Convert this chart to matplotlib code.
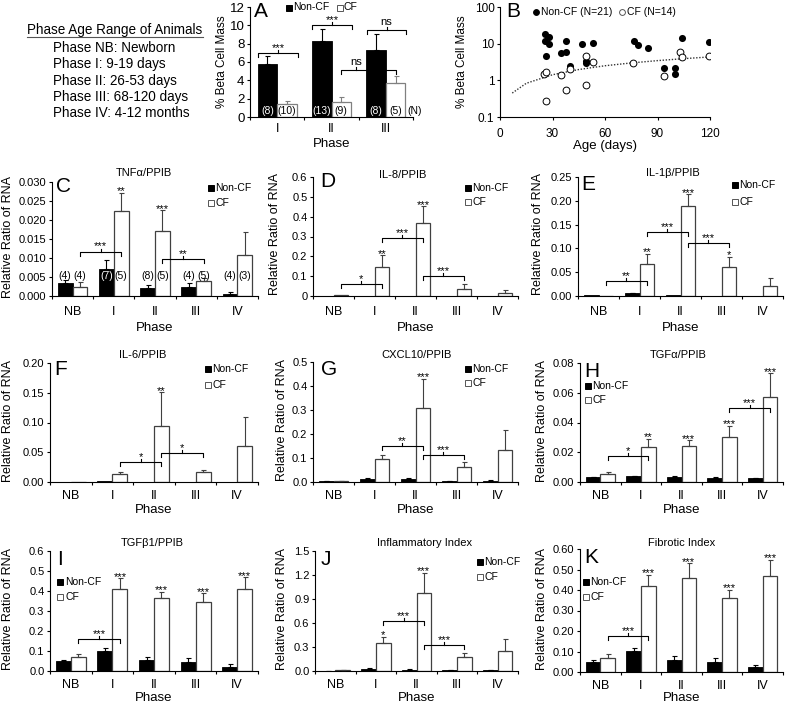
import numpy as np
import matplotlib
matplotlib.use('Agg')
import matplotlib.pyplot as plt
from matplotlib.lines import Line2D
from matplotlib.ticker import NullLocator

plt.rcParams['font.family'] = ['Liberation Sans', 'DejaVu Sans']
plt.rcParams['axes.linewidth'] = 0.8

W, H = 786, 704

# ------------------------------------------------------------------ data
phases = ['NB', 'I', 'II', 'III', 'IV']
series_names = ['Non-CF', 'CF']
age_header = 'Phase Age Range of Animals'
age_lines = ['Phase NB: Newborn', 'Phase I: 9-19 days', 'Phase II: 26-53 days',
             'Phase III: 68-120 days', 'Phase IV: 4-12 months']

# Panel A: % beta cell mass
a_phases = ['I', 'II', 'III']
a_noncf = [5.8, 8.3, 7.3]
a_noncf_err = [0.9, 1.3, 1.8]
a_cf = [1.4, 1.65, 3.7]
a_cf_err = [0.3, 0.5, 0.8]
a_n_noncf = ['(8)', '(13)', '(8)']
a_n_cf = ['(10)', '(9)', '(5)']
a_yticks = [0, 2, 4, 6, 8, 10, 12]

# Panel B: scatter (age days, % beta cell mass)
b_noncf_age = [25.7, 28.2, 25.7, 28.0, 26.0, 34.7, 37.5, 37.7, 40.0, 46.7, 49.0,
               49.0, 53.0, 76.8, 78.7, 84.8, 93.9, 100.0, 100.0, 103.8, 119.6]
b_noncf_mass = [18.7, 15.0, 11.8, 10.0, 4.6, 5.6, 6.0, 12.0, 2.5, 9.5, 3.4,
                2.9, 10.2, 12.2, 9.4, 7.6, 2.2, 2.2, 1.5, 14.5, 10.8]
b_cf_age = [25.1, 26.0, 26.0, 34.9, 37.7, 40.0, 49.0, 49.0, 53.0, 75.8, 93.9,
            102.9, 103.8, 119.6]
b_cf_mass = [1.45, 1.65, 0.27, 1.4, 0.56, 2.0, 4.7, 0.76, 3.1, 2.9, 1.28,
             6.0, 4.3, 4.7]
b_trend_age = [7, 15, 30, 45, 60, 75, 90, 105, 120]
b_trend_mass = [0.45, 0.83, 1.42, 1.97, 2.5, 2.98, 3.45, 3.9, 4.35]

# Gene panels
tnfa_noncf = [0.0035, 0.0072, 0.0020, 0.0023, 0.0005]
tnfa_noncf_err = [0.0007, 0.0023, 0.0008, 0.0011, 0.0005]
tnfa_cf = [0.0025, 0.0224, 0.0171, 0.0039, 0.0107]
tnfa_cf_err = [0.0011, 0.0047, 0.0055, 0.0009, 0.0061]
tnfa_n_noncf = ['(4)', '(7)', '(8)', '(4)', '(4)']
tnfa_n_cf = ['(4)', '(5)', '(5)', '(5)', '(3)']
tnfa_yticklabels = ['0.000', '0.005', '0.010', '0.015', '0.020', '0.025', '0.030']

il8_noncf = [0.002, 0.002, 0.002, 0.001, 0.001]
il8_noncf_err = [0.0, 0.0, 0.0, 0.0, 0.0]
il8_cf = [0.003, 0.147, 0.370, 0.037, 0.017]
il8_cf_err = [0.0, 0.058, 0.083, 0.021, 0.013]
il8_yticklabels = ['0', '0.1', '0.2', '0.3', '0.4', '0.5', '0.6']

il1b_noncf = [0.0015, 0.0055, 0.0015, 0.0008, 0.0008]
il1b_noncf_err = [0.0, 0.001, 0.0, 0.0, 0.0]
il1b_cf = [0.001, 0.067, 0.189, 0.061, 0.0215]
il1b_cf_err = [0.0, 0.022, 0.025, 0.021, 0.0155]
il1b_yticklabels = ['0.00', '0.05', '0.10', '0.15', '0.20', '0.25']

il6_noncf = [0.0, 0.001, 0.0, 0.0005, 0.0]
il6_noncf_err = [0.0, 0.0, 0.0, 0.0, 0.0]
il6_cf = [0.0, 0.0134, 0.0947, 0.0162, 0.060]
il6_cf_err = [0.0, 0.0034, 0.056, 0.0038, 0.049]
il6_yticklabels = ['0.00', '0.05', '0.10', '0.15', '0.20']

cxcl10_noncf = [0.003, 0.014, 0.011, 0.004, 0.005]
cxcl10_noncf_err = [0.001, 0.004, 0.004, 0.001, 0.002]
cxcl10_cf = [0.003, 0.097, 0.308, 0.0625, 0.135]
cxcl10_cf_err = [0.001, 0.017, 0.122, 0.021, 0.080]
cxcl10_yticklabels = ['0.0', '0.1', '0.2', '0.3', '0.4', '0.5']

tgfa_noncf = [0.0033, 0.0038, 0.0034, 0.0029, 0.0025]
tgfa_noncf_err = [0.0002, 0.0004, 0.0004, 0.0003, 0.0004]
tgfa_cf = [0.0056, 0.0234, 0.0243, 0.0305, 0.0573]
tgfa_cf_err = [0.0008, 0.0056, 0.0036, 0.0074, 0.0157]
tgfa_yticklabels = ['0.00', '0.02', '0.04', '0.06', '0.08']

tgfb1_noncf = [0.050, 0.102, 0.057, 0.045, 0.022]
tgfb1_noncf_err = [0.007, 0.012, 0.015, 0.022, 0.012]
tgfb1_cf = [0.072, 0.409, 0.365, 0.345, 0.410]
tgfb1_cf_err = [0.015, 0.055, 0.032, 0.043, 0.059]
tgfb1_yticklabels = ['0.0', '0.1', '0.2', '0.3', '0.4', '0.5', '0.6']

infl_noncf = [0.005, 0.029, 0.017, 0.007, 0.007]
infl_noncf_err = [0.001, 0.006, 0.003, 0.002, 0.002]
infl_cf = [0.008, 0.350, 0.975, 0.175, 0.246]
infl_cf_err = [0.002, 0.075, 0.250, 0.050, 0.158]
infl_yticklabels = ['0.0', '0.3', '0.6', '0.9', '1.2', '1.5']

fib_noncf = [0.049, 0.102, 0.057, 0.047, 0.024]
fib_noncf_err = [0.008, 0.016, 0.019, 0.023, 0.012]
fib_cf = [0.070, 0.421, 0.459, 0.360, 0.467]
fib_cf_err = [0.016, 0.052, 0.071, 0.042, 0.079]
fib_yticklabels = ['0.00', '0.10', '0.20', '0.30', '0.40', '0.50', '0.60']

# significance annotations
tnfa_stars = ['', '**', '***', '', '']
tnfa_brackets = [(0, 1, 0.0117, '***'), (2, 3, 0.0098, '**')]
il8_stars = ['', '**', '***', '', '']
il8_brackets = [(0, 1, 0.062, '*'), (1, 2, 0.29, '***'), (2, 3, 0.10, '***')]
il1b_stars = ['', '**', '***', '*', '']
il1b_brackets = [(0, 1, 0.032, '**'), (1, 2, 0.134, '***'), (2, 3, 0.111, '***')]
il6_stars = ['', '', '**', '', '']
il6_brackets = [(1, 2, 0.0336, '*'), (2, 3, 0.0487, '*')]
cxcl10_stars = ['', '', '***', '', '']
cxcl10_brackets = [(1, 2, 0.15, '**'), (2, 3, 0.111, '***')]
tgfa_stars = ['', '**', '***', '***', '***']
tgfa_brackets = [(0, 1, 0.0172, '*'), (3, 4, 0.050, '***')]
tgfb1_stars = ['', '***', '***', '***', '***']
tgfb1_brackets = [(0, 1, 0.159, '***')]
infl_stars = ['', '*', '***', '', '']
infl_brackets = [(1, 2, 0.62, '***'), (2, 3, 0.32, '***')]
fib_stars = ['', '***', '***', '***', '***']
fib_brackets = [(0, 1, 0.175, '***')]

# ------------------------------------------------------------------ helpers
CF_EDGE = '#404040'
BW = 0.36

fig = plt.figure(figsize=(W / 100, H / 100), dpi=100)


def fx(px):
    return px / W


def fy(py):
    return 1 - py / H


def add_ax(l, t, r, b):
    return fig.add_axes([fx(l), fy(b), (r - l) / W, (b - t) / H])


def sq_legend(x, y, filled, label, marker='s', ms=3.8, fs=7.5, gap=5):
    fig.add_artist(Line2D([fx(x)], [fy(y)], marker=marker, markersize=ms,
                          markerfacecolor='black' if filled else 'white',
                          markeredgecolor='black' if filled else '#555555',
                          markeredgewidth=0.7, linestyle='none',
                          transform=fig.transFigure))
    fig.text(fx(x + gap), fy(y), label, ha='left', va='center', fontsize=fs)


def bracket(ax, x1, x2, y, txt, h_px, fs=8, xm=None):
    y0, y1 = ax.get_ylim()
    u = (y1 - y0) / h_px
    ax.plot([x1, x1, x2, x2], [y - 4 * u, y, y, y - 4 * u], color='black',
            lw=0.8, zorder=4, clip_on=False)
    if xm is None:
        xm = (x1 + x2) / 2
    ax.plot([xm, xm], [y, y + 3 * u], color='black', lw=0.8, zorder=4, clip_on=False)
    off = 2 * u if txt.startswith('*') else 5 * u
    ax.text(xm, y + off, txt, ha='center', va='baseline', fontsize=fs, zorder=5)


def draw_bars(ax, cats, noncf, noncf_err, cf, cf_err, cf_edge=CF_EDGE):
    x = np.arange(len(cats))
    ax.bar(x - BW / 2, noncf, BW, color='black', edgecolor='black', linewidth=0.6, zorder=2)
    ax.bar(x + BW / 2, cf, BW, color='white', edgecolor=cf_edge, linewidth=0.9, zorder=2)
    for xs, vals, errs, col in [(x - BW / 2, noncf, noncf_err, 'black'),
                                (x + BW / 2, cf, cf_err, cf_edge)]:
        for xi, v, e in zip(xs, vals, errs):
            if e > 0:
                ax.errorbar([xi], [v], yerr=[[0], [e]], fmt='none', ecolor=col,
                            elinewidth=0.8, capsize=1.8, capthick=0.8, zorder=3)
    return x


def style_cat_axes(ax, cats, pad_pt):
    n = len(cats)
    for s in ['top', 'right']:
        ax.spines[s].set_visible(False)
    ax.set_xlim(-0.5, n - 0.5)
    ax.set_xticks(np.arange(n + 1) - 0.5)
    ax.set_xticklabels([])
    ax.set_xticks(np.arange(n), minor=True)
    ax.set_xticklabels(cats, minor=True, fontsize=9)
    ax.tick_params(axis='x', which='minor', length=0, pad=pad_pt)
    ax.tick_params(axis='x', which='major', direction='out', length=2.5, width=0.8)
    ax.tick_params(axis='y', direction='out', length=2.5, width=0.8, labelsize=8, pad=1.5)


# ------------------------------------------------------------------ header text
fig.text(fx(27), fy(34), age_header, ha='left', va='baseline', fontsize=9.75)
fig.add_artist(Line2D([fx(27), fx(203)], [fy(37), fy(37)], color='#555555', lw=0.8,
                      transform=fig.transFigure))
for i, line in enumerate(age_lines):
    fig.text(fx(53), fy(52 + 16.3 * i), line, ha='left', va='baseline', fontsize=9.75)

# ------------------------------------------------------------------ panel A
axA = add_ax(250, 7, 413, 117)
xa = draw_bars(axA, a_phases, a_noncf, a_noncf_err, a_cf, a_cf_err, cf_edge='#808080')
axA.set_ylim(0, 12)
axA.set_yticks(a_yticks)
style_cat_axes(axA, a_phases, 4)
axA.tick_params(axis='y', labelsize=9.5)
for i in range(len(a_phases)):
    axA.text(xa[i] - BW / 2, 0.7, a_n_noncf[i], ha='center', va='center', fontsize=7.5,
             color='white' if a_noncf[i] > 1.3 else 'black', zorder=5)
    axA.text(xa[i] + BW / 2, 0.7, a_n_cf[i], ha='center', va='center', fontsize=7.5,
             color='black', zorder=5)
axA.text(2.39, 0.7, '(N)', ha='left', va='center', fontsize=7.5, clip_on=False)
bracket(axA, 0 - BW * 0.98, 0 + BW * 1.05, 7.0, '***', 110)
bracket(axA, 1 - BW * 0.98, 1 + BW * 1.05, 10.0, '***', 110)
bracket(axA, 2 - BW * 0.98, 2 + BW * 1.05, 9.5, 'ns', 110)
bracket(axA, 1 + BW / 2, 2 + BW / 2, 5.1, 'ns', 110, xm=1.45)
fig.text(fx(222), fy(62), '% Beta Cell Mass', rotation=90, ha='center', va='center', fontsize=8.5)
fig.text(fx(331.5), fy(144), 'Phase', ha='center', va='center', fontsize=9.5)
fig.text(fx(254), fy(2), 'A', ha='left', va='top', fontsize=15)
sq_legend(288.5, 7.5, True, 'Non-CF', gap=4.5)
sq_legend(339.5, 7.5, False, 'CF', gap=4.5)

# ------------------------------------------------------------------ panel B
axB = add_ax(500, 7, 710, 117)
axB.set_yscale('log')
axB.plot(b_trend_age, b_trend_mass, linestyle=(0, (1, 1.2)), color='#333333', lw=1.0, zorder=2)
axB.scatter(b_noncf_age, b_noncf_mass, s=26, c='black', zorder=3, linewidths=0)
axB.scatter(b_cf_age, b_cf_mass, s=24, facecolors='white', edgecolors='black',
            linewidths=0.7, zorder=3)
axB.set_xlim(0, 120)
axB.set_ylim(0.1, 100)
axB.set_xticks([0, 30, 60, 90, 120])
axB.set_yticks([0.1, 1, 10, 100])
axB.set_yticklabels(['0.1', '1', '10', '100'])
axB.yaxis.set_minor_locator(NullLocator())
for s in ['top', 'right']:
    axB.spines[s].set_visible(False)
axB.tick_params(axis='x', direction='out', length=2.5, width=0.8, labelsize=8.5, pad=5.5)
axB.tick_params(axis='y', direction='out', length=2.5, width=0.8, labelsize=8.5, pad=1.5)
fig.text(fx(462), fy(62), '% Beta Cell Mass', rotation=90, ha='center', va='center', fontsize=8.5)
fig.text(fx(605), fy(146), 'Age (days)', ha='center', va='center', fontsize=9.5)
fig.text(fx(506), fy(2), 'B', ha='left', va='top', fontsize=15)
sq_legend(536, 11.7, True, 'Non-CF (N=21)', marker='o', ms=4.2, gap=5)
sq_legend(622, 11.7, False, 'CF (N=14)', marker='o', ms=4.2, gap=5)

# ------------------------------------------------------------------ gene panels
panels = [
    dict(letter='C', title='TNFα/PPIB', rect=(52, 182, 258, 296), noncf=tnfa_noncf,
         noncf_err=tnfa_noncf_err, cf=tnfa_cf, cf_err=tnfa_cf_err, ymax=0.030,
         ticklabels=tnfa_yticklabels, stars=tnfa_stars, brackets=tnfa_brackets,
         title_px=(144, 173), letter_px=(56, 177), ylab_x=8, leg=(210.5, 188, 203),
         xl_y=328, pad=7.5, n=(tnfa_n_noncf, tnfa_n_cf, 0.0052)),
    dict(letter='D', title='IL-8/PPIB', rect=(313, 177, 518, 296), noncf=il8_noncf,
         noncf_err=il8_noncf_err, cf=il8_cf, cf_err=il8_cf_err, ymax=0.6,
         ticklabels=il8_yticklabels, stars=il8_stars, brackets=il8_brackets,
         title_px=(403, 175), letter_px=(320, 172), ylab_x=275, leg=(467.5, 188, 202),
         xl_y=328, pad=7.5, n=None),
    dict(letter='E', title='IL-1β/PPIB', rect=(578, 177, 783, 296), noncf=il1b_noncf,
         noncf_err=il1b_noncf_err, cf=il1b_cf, cf_err=il1b_cf_err, ymax=0.25,
         ticklabels=il1b_yticklabels, stars=il1b_stars, brackets=il1b_brackets,
         title_px=(673, 173), letter_px=(581, 175), ylab_x=538, leg=(734.5, 185, 202),
         xl_y=328, pad=7.5, n=None),
    dict(letter='F', title='IL-6/PPIB', rect=(50, 363, 258, 482), noncf=il6_noncf,
         noncf_err=il6_noncf_err, cf=il6_cf, cf_err=il6_cf_err, ymax=0.20,
         ticklabels=il6_yticklabels, stars=il6_stars, brackets=il6_brackets,
         title_px=(143, 355), letter_px=(54, 360), ylab_x=8, leg=(207.5, 369, 385),
         xl_y=510, pad=6.0, n=None),
    dict(letter='G', title='CXCL10/PPIB', rect=(313, 362, 518, 482), noncf=cxcl10_noncf,
         noncf_err=cxcl10_noncf_err, cf=cxcl10_cf, cf_err=cxcl10_cf_err, ymax=0.5,
         ticklabels=cxcl10_yticklabels, stars=cxcl10_stars, brackets=cxcl10_brackets,
         title_px=(417, 355), letter_px=(321, 360), ylab_x=282, leg=(467.5, 369, 383),
         xl_y=510, pad=6.0, n=None),
    dict(letter='H', title='TGFα/PPIB', rect=(580, 363, 783, 482), noncf=tgfa_noncf,
         noncf_err=tgfa_noncf_err, cf=tgfa_cf, cf_err=tgfa_cf_err, ymax=0.08,
         ticklabels=tgfa_yticklabels, stars=tgfa_stars, brackets=tgfa_brackets,
         title_px=(678, 355), letter_px=(584, 362), ylab_x=542, leg=(587.5, 386, 400),
         xl_y=510, pad=6.0, n=None),
    dict(letter='I', title='TGFβ1/PPIB', rect=(50, 551, 258, 671), noncf=tgfb1_noncf,
         noncf_err=tgfb1_noncf_err, cf=tgfb1_cf, cf_err=tgfb1_cf_err, ymax=0.6,
         ticklabels=tgfb1_yticklabels, stars=tgfb1_stars, brackets=tgfb1_brackets,
         title_px=(152, 543), letter_px=(57, 550), ylab_x=8, leg=(60.5, 582, 597),
         xl_y=698, pad=5.8, n=None),
    dict(letter='J', title='Inflammatory Index', rect=(315, 551, 518, 671), noncf=infl_noncf,
         noncf_err=infl_noncf_err, cf=infl_cf, cf_err=infl_cf_err, ymax=1.5,
         ticklabels=infl_yticklabels, stars=infl_stars, brackets=infl_brackets,
         title_px=(425, 543), letter_px=(321, 550), ylab_x=282, leg=(479.5, 562, 577),
         xl_y=698, pad=5.8, n=None),
    dict(letter='K', title='Fibrotic Index', rect=(580, 549, 783, 672), noncf=fib_noncf,
         noncf_err=fib_noncf_err, cf=fib_cf, cf_err=fib_cf_err, ymax=0.6,
         ticklabels=fib_yticklabels, stars=fib_stars, brackets=fib_brackets,
         title_px=(682, 543), letter_px=(584, 548), ylab_x=542, leg=(585.5, 582, 597),
         xl_y=698, pad=5.8, n=None),
]

for p in panels:
    l, t, r, b = p['rect']
    hpx = b - t
    ax = add_ax(l, t, r, b)
    x = draw_bars(ax, phases, p['noncf'], p['noncf_err'], p['cf'], p['cf_err'])
    ax.set_ylim(0, p['ymax'])
    ticks = np.linspace(0, p['ymax'], len(p['ticklabels']))
    ax.set_yticks(ticks)
    ax.set_yticklabels(p['ticklabels'])
    style_cat_axes(ax, phases, p['pad'])
    u = p['ymax'] / hpx
    for i, s in enumerate(p['stars']):
        if s:
            top = p['cf'][i] + p['cf_err'][i]
            ax.text(x[i] + BW / 2, top - 1.5 * u, s, ha='center', va='baseline',
                    fontsize=8, zorder=5)
    for (i1, i2, yb, txt) in p['brackets']:
        bracket(ax, x[i1] + BW / 2, x[i2] + BW / 2, yb, txt, hpx)
    if p['n'] is not None:
        nn, nc, yl = p['n']
        for i in range(len(phases)):
            ax.text(x[i] - BW / 2, yl, nn[i], ha='center', va='center', fontsize=7.5,
                    color='white' if p['noncf'][i] > yl + 3 * u else 'black', zorder=5)
            ax.text(x[i] + BW / 2, yl, nc[i], ha='center', va='center', fontsize=7.5,
                    color='black', zorder=5)
    fig.text(fx(p['title_px'][0]), fy(p['title_px'][1]), p['title'], ha='center',
             va='center', fontsize=8)
    fig.text(fx(p['letter_px'][0]), fy(p['letter_px'][1]), p['letter'], ha='left',
             va='top', fontsize=15)
    fig.text(fx(p['ylab_x']), fy((t + b) / 2 - 2), 'Relative Ratio of RNA', rotation=90,
             ha='center', va='center', fontsize=9)
    fig.text(fx((l + r) / 2), fy(p['xl_y']), 'Phase', ha='center', va='center', fontsize=9.5)
    lx, ly1, ly2 = p['leg']
    sq_legend(lx, ly1, True, series_names[0])
    sq_legend(lx, ly2, False, series_names[1])

fig.savefig('out.png', dpi=100)
